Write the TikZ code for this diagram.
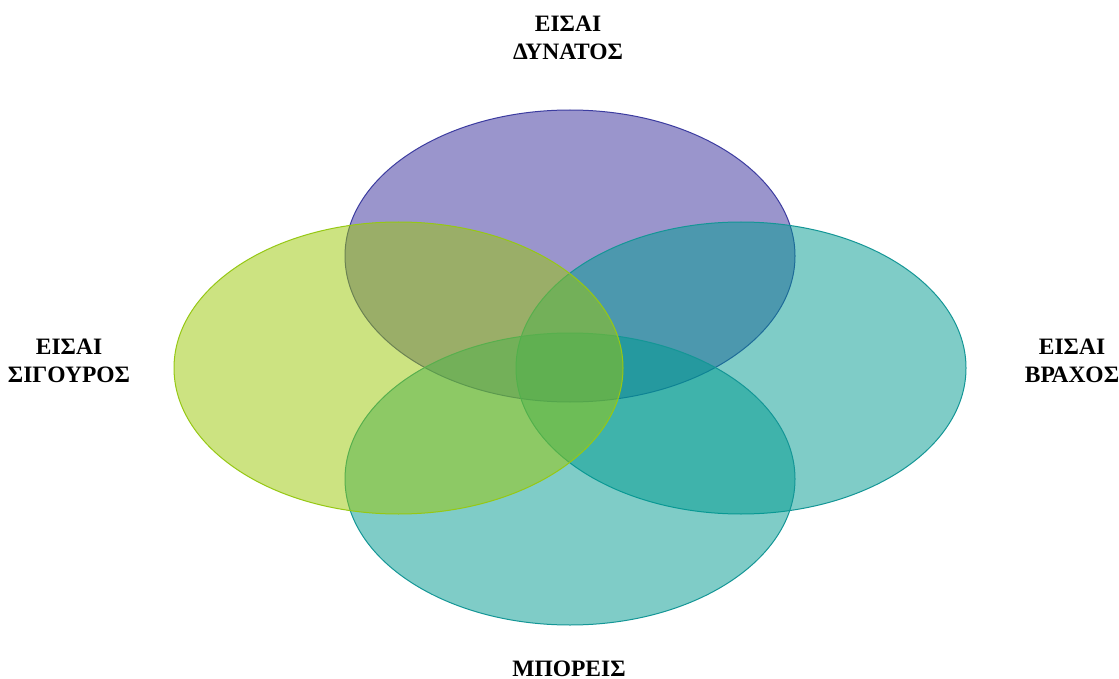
\documentclass[tikz,border=0pt]{standalone}
\usepackage{fontspec}
\setmainfont{Liberation Serif}
\begin{document}
\begin{tikzpicture}[x=1pt,y=-1pt,
  lbl/.style={font=\bfseries\fontsize{23.5}{28}\selectfont, align=center, anchor=base, inner sep=0pt},
  vennTop/.style={fill=cPurple, fill opacity=0.5, draw=cPurpleL, line width=1pt},
  vennTeal/.style={fill=cTeal, fill opacity=0.5, draw=cTealL, line width=1pt},
  vennGreen/.style={fill=cGreen, fill opacity=0.5, draw=cGreenL, line width=1pt}
]
\definecolor{cPurple}{RGB}{55,45,155}
\definecolor{cPurpleL}{RGB}{60,60,160}
\definecolor{cTeal}{RGB}{0,155,145}
\definecolor{cTealL}{RGB}{20,150,150}
\definecolor{cGreen}{RGB}{155,200,5}
\definecolor{cGreenL}{RGB}{150,200,20}
\useasboundingbox (0,0) rectangle (1119,679);
\fill[white] (0,0) rectangle (1119,679);
% top
\path[vennTop] (570,256) ellipse [x radius=225, y radius=146];
% right
\path[vennTeal] (741,368) ellipse [x radius=225, y radius=146];
% bottom
\path[vennTeal] (570,479) ellipse [x radius=225, y radius=146];
% left
\path[vennGreen] (398.5,368) ellipse [x radius=224.5, y radius=146];
\node[lbl] (top) at (568,60) {ΕΙΣΑΙ\\ΔΥΝΑΤΟΣ};
\node[lbl] (left) at (69,382) {ΕΙΣΑΙ\\ΣΙΓΟΥΡΟΣ};
\node[lbl] (right) at (1072,382) {ΕΙΣΑΙ\\ΒΡΑΧΟΣ};
\node[lbl] (bottom) at (569,676) {ΜΠΟΡΕΙΣ};
\end{tikzpicture}
\end{document}
